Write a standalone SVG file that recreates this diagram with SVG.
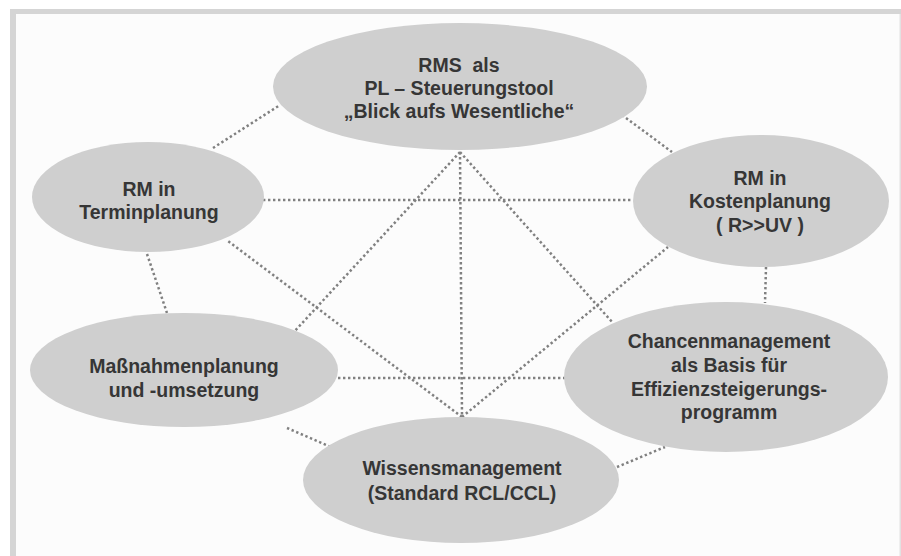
<svg xmlns="http://www.w3.org/2000/svg" width="901" height="556" viewBox="0 0 901 556">
<style>
.node{fill:#cfcfcf;}
.t{font-family:"Liberation Sans",Arial,sans-serif;font-weight:bold;font-size:19.5px;fill:#363636;text-anchor:middle;white-space:pre;}
.c{stroke:#808080;stroke-width:2.5;stroke-dasharray:2.4 2.6;fill:none;}
</style>
<rect x="0" y="0" width="901" height="556" fill="#ffffff"/>
<rect x="10" y="9" width="891" height="547" fill="#fcfcfc"/>
<rect x="10" y="9" width="891" height="5" fill="#d5d5d5"/>
<rect x="10" y="9" width="6" height="547" fill="#d5d5d5"/>
<rect x="899.5" y="14" width="1.5" height="542" fill="#e2e2e2"/>
<g id="connectors">
<line class="c" x1="213" y1="148" x2="280" y2="105"/>
<line class="c" x1="622" y1="115" x2="672" y2="152"/>
<line class="c" x1="263" y1="200" x2="633" y2="200"/>
<line class="c" x1="147" y1="254" x2="167" y2="313"/>
<line class="c" x1="766" y1="267" x2="765" y2="303"/>
<line class="c" x1="287" y1="428" x2="333" y2="448"/>
<line class="c" x1="617" y1="467" x2="665" y2="447"/>
<line class="c" x1="460" y1="152" x2="462" y2="417"/>
<line class="c" x1="460" y1="152" x2="293" y2="333"/>
<line class="c" x1="460" y1="152" x2="613" y2="323"/>
<line class="c" x1="462" y1="417" x2="228" y2="241"/>
<line class="c" x1="462" y1="417" x2="668" y2="247"/>
<line class="c" x1="338" y1="378" x2="565" y2="378"/>
</g>
<g id="rms">
<ellipse class="node" cx="460" cy="86.5" rx="187" ry="63.5"/>
<text class="t" x="459" y="72" xml:space="preserve">RMS  als</text>
<text class="t" x="459" y="95">PL – Steuerungstool</text>
<text class="t" x="459" y="118">„Blick aufs Wesentliche“</text>
</g>
<g id="termin">
<ellipse class="node" cx="148" cy="197" rx="116" ry="55"/>
<text class="t" x="149" y="196">RM in</text>
<text class="t" x="149" y="219">Terminplanung</text>
</g>
<g id="kosten">
<ellipse class="node" cx="761" cy="201" rx="128" ry="66"/>
<text class="t" x="760" y="185">RM in</text>
<text class="t" x="760" y="208">Kostenplanung</text>
<text class="t" x="760" y="232">( R&gt;&gt;UV )</text>
</g>
<g id="massnahmen">
<ellipse class="node" cx="184" cy="370" rx="154" ry="57"/>
<text class="t" x="184" y="373">Maßnahmenplanung</text>
<text class="t" x="184" y="397">und -umsetzung</text>
</g>
<g id="chancen">
<ellipse class="node" cx="726" cy="377" rx="162" ry="75"/>
<text class="t" x="729" y="348">Chancenmanagement</text>
<text class="t" x="729" y="372">als Basis für</text>
<text class="t" x="729" y="396">Effizienzsteigerungs-</text>
<text class="t" x="729" y="419">programm</text>
</g>
<g id="wissen">
<ellipse class="node" cx="461" cy="480" rx="158" ry="63"/>
<text class="t" x="462" y="475">Wissensmanagement</text>
<text class="t" x="462" y="500">(Standard RCL/CCL)</text>
</g>
</svg>
